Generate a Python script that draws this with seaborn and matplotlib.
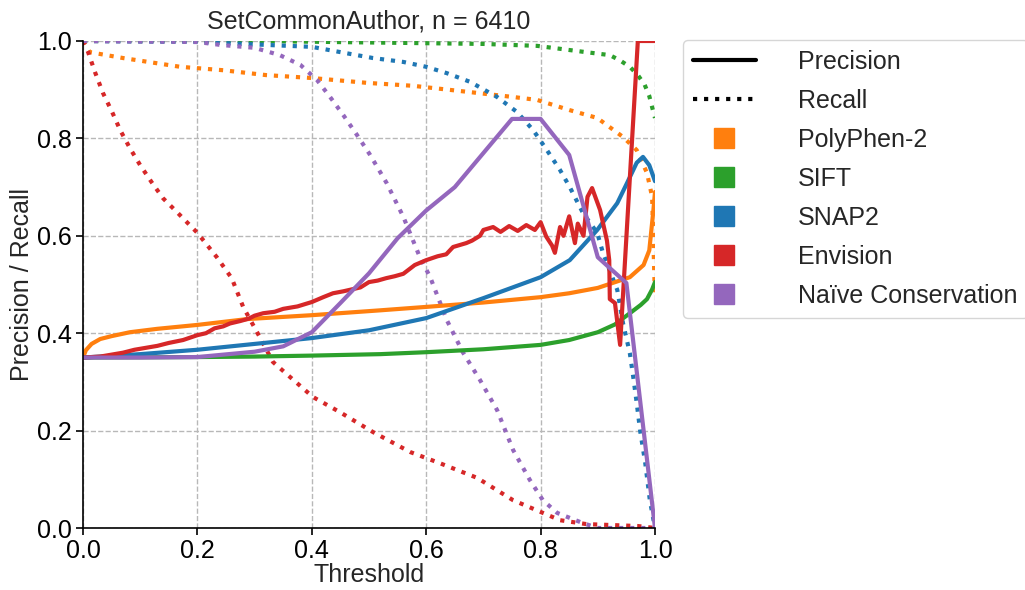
import numpy as np
import pandas as pd
import matplotlib
matplotlib.use("Agg")
import matplotlib.pyplot as plt
from matplotlib.lines import Line2D
import seaborn as sns

# ---------------- data ----------------
methods = ["PolyPhen-2", "SIFT", "SNAP2", "Envision", "Naïve Conservation"]
colors = ["#ff7f0e", "#2ca02c", "#1f77b4", "#d62728", "#9467bd"]

# Precision curves
pp2_prec_x = [0.0, 0.005, 0.015, 0.03, 0.05, 0.082, 0.13, 0.2, 0.287, 0.4, 0.52, 0.6, 0.7, 0.8, 0.85, 0.9, 0.956, 0.98, 0.99, 0.997, 1.0]
pp2_prec_y = [0.35, 0.365, 0.378, 0.388, 0.394, 0.402, 0.409, 0.417, 0.429, 0.437, 0.447, 0.454, 0.463, 0.474, 0.482, 0.493, 0.515, 0.54, 0.57, 0.65, 0.69]

sift_prec_x = [0.0, 0.2, 0.3, 0.4, 0.52, 0.6, 0.7, 0.8, 0.85, 0.9, 0.93, 0.956, 0.975, 0.986, 0.995, 1.0]
sift_prec_y = [0.35, 0.351, 0.352, 0.354, 0.357, 0.361, 0.367, 0.376, 0.386, 0.402, 0.418, 0.441, 0.458, 0.47, 0.49, 0.505]

snap2_prec_x = [0.0, 0.1, 0.2, 0.3, 0.4, 0.5, 0.6, 0.7, 0.8, 0.851, 0.899, 0.934, 0.951, 0.968, 0.979, 0.99, 1.0]
snap2_prec_y = [0.35, 0.357, 0.366, 0.378, 0.39, 0.406, 0.431, 0.472, 0.515, 0.55, 0.612, 0.667, 0.708, 0.75, 0.762, 0.745, 0.712]

env_prec_x = [0.0, 0.03, 0.05, 0.07, 0.09, 0.11, 0.13, 0.15, 0.175, 0.2, 0.215, 0.23, 0.245, 0.257, 0.275, 0.29,
              0.3, 0.315, 0.335, 0.35, 0.375, 0.4, 0.42, 0.437, 0.455, 0.47, 0.485, 0.5, 0.515, 0.53,
              0.545, 0.56, 0.58, 0.6, 0.62, 0.635, 0.647, 0.67, 0.68, 0.694, 0.7, 0.717, 0.73, 0.745, 0.76,
              0.775, 0.79, 0.8, 0.81, 0.82, 0.825, 0.834, 0.84, 0.85, 0.86, 0.865, 0.875, 0.882, 0.89,
              0.904, 0.916, 0.92, 0.921, 0.93, 0.939, 0.97, 1.0]
env_prec_y = [0.35, 0.352, 0.356, 0.36, 0.366, 0.37, 0.374, 0.38, 0.386, 0.396, 0.4, 0.41, 0.414, 0.42, 0.425, 0.43,
              0.436, 0.441, 0.444, 0.45, 0.455, 0.464, 0.474, 0.482, 0.486, 0.49, 0.494, 0.505, 0.508, 0.513,
              0.517, 0.522, 0.54, 0.55, 0.558, 0.562, 0.577, 0.585, 0.59, 0.6, 0.612, 0.618, 0.608, 0.62, 0.61,
              0.622, 0.612, 0.628, 0.598, 0.58, 0.565, 0.618, 0.6, 0.64, 0.585, 0.625, 0.6, 0.68, 0.698,
              0.653, 0.59, 0.55, 0.47, 0.462, 0.376, 1.0, 1.0]

naive_prec_x = [0.0, 0.1, 0.2, 0.3, 0.35, 0.4, 0.45, 0.5, 0.55, 0.6, 0.65, 0.7, 0.75, 0.8, 0.85, 0.9, 0.95, 1.0]
naive_prec_y = [0.35, 0.35, 0.351, 0.362, 0.373, 0.402, 0.462, 0.523, 0.595, 0.652, 0.7, 0.77, 0.84, 0.84, 0.766, 0.556, 0.503, 0.0]

# Recall curves
pp2_rec_x = [0.0, 0.012, 0.07, 0.17, 0.245, 0.32, 0.4, 0.497, 0.577, 0.677, 0.752, 0.794, 0.851, 0.899, 0.944, 0.968, 0.986, 0.995, 1.0]
pp2_rec_y = [1.0, 0.977, 0.965, 0.947, 0.94, 0.93, 0.924, 0.914, 0.908, 0.895, 0.885, 0.879, 0.858, 0.842, 0.803, 0.776, 0.729, 0.68, 0.47]

sift_rec_x = [0.0, 0.3, 0.5, 0.7, 0.794, 0.88, 0.921, 0.939, 0.956, 0.97, 0.982, 0.99, 0.995, 1.0]
sift_rec_y = [1.0, 1.0, 0.997, 0.994, 0.99, 0.977, 0.971, 0.96, 0.947, 0.93, 0.91, 0.887, 0.864, 0.842]

snap2_rec_x = [0.0, 0.2, 0.32, 0.4, 0.46, 0.507, 0.56, 0.6, 0.636, 0.677, 0.724, 0.759, 0.787, 0.811, 0.834, 0.851,
               0.874, 0.899, 0.909, 0.934, 0.944, 0.956, 0.962, 0.968, 0.974, 0.983, 0.991, 1.0]
snap2_rec_y = [1.0, 0.998, 0.992, 0.988, 0.975, 0.965, 0.957, 0.947, 0.934, 0.916, 0.885, 0.854, 0.817, 0.776, 0.735, 0.7,
               0.647, 0.606, 0.565, 0.489, 0.421, 0.359, 0.31, 0.257, 0.2, 0.133, 0.057, 0.0]

env_rec_x = [0.0, 0.009, 0.021, 0.035, 0.051, 0.065, 0.082, 0.1, 0.12, 0.14, 0.164, 0.2, 0.234, 0.26, 0.28, 0.309,
             0.332, 0.362, 0.402, 0.449, 0.507, 0.572, 0.624, 0.689, 0.752, 0.804, 0.834, 0.88, 0.97, 1.0]
env_rec_y = [1.0, 0.977, 0.936, 0.893, 0.854, 0.817, 0.78, 0.745, 0.71, 0.677, 0.649, 0.606, 0.556, 0.513, 0.454, 0.392,
             0.341, 0.31, 0.269, 0.238, 0.197, 0.156, 0.133, 0.103, 0.057, 0.031, 0.016, 0.008, 0.004, 0.0]

naive_rec_x = [0.0, 0.2, 0.24, 0.3, 0.344, 0.38, 0.409, 0.432, 0.455, 0.479, 0.502, 0.531, 0.56, 0.589, 0.607,
               0.636, 0.664, 0.694, 0.724, 0.752, 0.781, 0.804, 0.829, 0.874, 0.9, 1.0]
naive_rec_y = [1.0, 0.998, 0.992, 0.986, 0.971, 0.951, 0.92, 0.885, 0.848, 0.807, 0.766, 0.708, 0.639, 0.556, 0.515,
               0.427, 0.361, 0.304, 0.242, 0.16, 0.099, 0.057, 0.031, 0.01, 0.0, 0.0]

title_text = "SetCommonAuthor, n = 6410"
xlabel_text = "Threshold"
ylabel_text = "Precision / Recall"
ticks = [0.0, 0.2, 0.4, 0.6, 0.8, 1.0]

prec_curves = [(pp2_prec_x, pp2_prec_y), (sift_prec_x, sift_prec_y), (snap2_prec_x, snap2_prec_y),
               (env_prec_x, env_prec_y), (naive_prec_x, naive_prec_y)]
rec_curves = [(pp2_rec_x, pp2_rec_y), (sift_rec_x, sift_rec_y), (snap2_rec_x, snap2_rec_y),
              (env_rec_x, env_rec_y), (naive_rec_x, naive_rec_y)]

# ---------------- style ----------------
sns.set_style("ticks", {"axes.grid": True, "grid.linestyle": "--", "grid.color": "#b0b0b0"})
plt.rcParams["font.family"] = ["Liberation Sans", "DejaVu Sans"]
FS = 18

fig = plt.figure(figsize=(10.25, 5.9), dpi=100)
ax = fig.add_axes([83 / 1025, 1 - 528 / 590, (655 - 83) / 1025, (528 - 41) / 590])

for (x, y), c in zip(rec_curves, colors):
    df = pd.DataFrame({"t": x, "v": y})
    sns.lineplot(data=df, x="t", y="v", color=c, linestyle=":", linewidth=3,
                 estimator=None, sort=False, ax=ax)
for (x, y), c in zip(prec_curves, colors):
    df = pd.DataFrame({"t": x, "v": y})
    sns.lineplot(data=df, x="t", y="v", color=c, linestyle="-", linewidth=3,
                 estimator=None, sort=False, ax=ax)

ax.set_xlim(0, 1)
ax.set_ylim(0, 1)
ax.set_xticks(ticks)
ax.set_yticks(ticks)
ax.set_xticklabels([f"{t:.1f}" for t in ticks], fontsize=FS)
ax.set_yticklabels([f"{t:.1f}" for t in ticks], fontsize=FS)
ax.grid(True, linestyle="--", color="#b8b8b8", linewidth=1)
ax.set_xlabel(xlabel_text, fontsize=FS, labelpad=0)
ax.set_ylabel(ylabel_text, fontsize=FS, labelpad=2)
ax.set_title(title_text, fontsize=FS, pad=9)
sns.despine(ax=ax)
for s in ["left", "bottom"]:
    ax.spines[s].set_color("black")
    ax.spines[s].set_linewidth(1.2)
ax.tick_params(colors="black", length=5, width=1.2, pad=3)

handles = [Line2D([], [], color="black", linestyle="-", linewidth=3),
           Line2D([], [], color="black", linestyle=":", linewidth=3)]
labels = ["Precision", "Recall"]
for m, c in zip(methods, colors):
    handles.append(Line2D([], [], color=c, marker="s", linestyle="none", markersize=14))
    labels.append(m)
leg = ax.legend(handles, labels, loc="upper left", bbox_to_anchor=(1.049, 1.003), borderaxespad=0,
                fontsize=FS, handlelength=2.5, handletextpad=1.7, labelspacing=0.6,
                frameon=True, fancybox=True, edgecolor="#cccccc", borderpad=0.4)

fig.savefig("out.png", dpi=100)
